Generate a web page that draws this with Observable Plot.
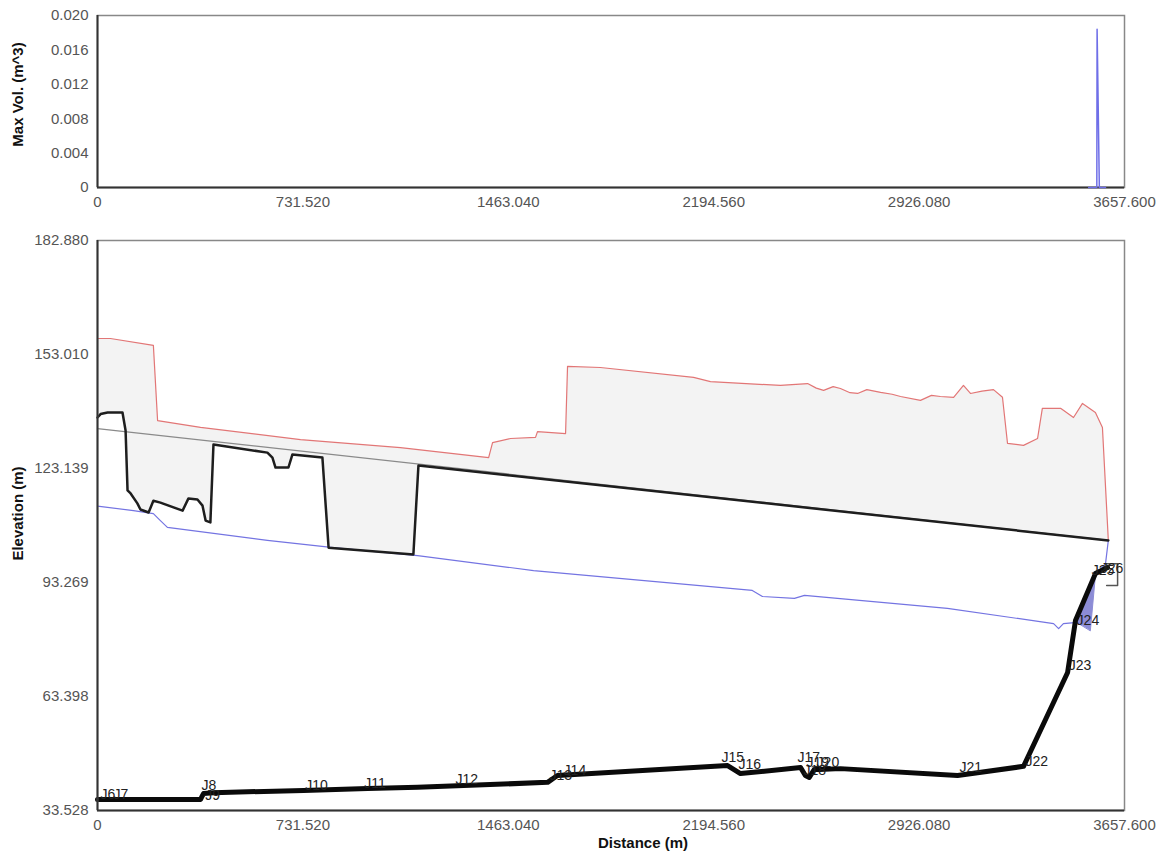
<!DOCTYPE html>
<html><head><meta charset="utf-8">
<script src="https://cdn.jsdelivr.net/npm/d3@7"></script>
<script src="https://cdn.jsdelivr.net/npm/@observablehq/plot@0.6"></script>
<style>
body{margin:0;background:#fff;}
#wrap{position:relative;width:1163px;height:856px;overflow:hidden;}
#top{position:absolute;left:0;top:0;}
#bottom{position:absolute;left:0;top:215px;}
</style></head><body><div id="wrap"><div id="top"></div><div id="bottom"></div></div>
<script>
// ---- tick values ----
const distTicks = [0, 731.52, 1463.04, 2194.56, 2926.08, 3657.6];
const volTicks = [0, 0.004, 0.008, 0.012, 0.016, 0.020];
const elevTicks = [33.528, 63.398, 93.269, 123.139, 153.010, 182.880];

// ---- top panel: max volume ----
const volDist = [3530, 3559, 3560, 3564, 3568, 3590];
const volValue = [0, 0, 0.0184, 0.0092, 0, 0];

// ---- lower panel: ground (red) ----
const groundDist = [0, 46, 199, 214, 367, 723, 1079, 1393, 1407, 1471, 1560, 1567, 1667, 1674, 1791, 2123, 2183, 2432, 2529, 2560, 2586, 2620, 2646, 2680, 2707, 2740, 2789, 2830, 2860, 2931, 2970, 3002, 3049, 3084, 3109, 3150, 3191, 3223, 3241, 3298, 3348, 3365, 3430, 3476, 3508, 3554, 3579, 3600];
const groundElev = [157.2, 157.2, 155.4, 135.7, 133.9, 130.7, 128.6, 126.0, 129.9, 131.0, 131.3, 132.8, 132.3, 149.9, 149.6, 147.0, 145.9, 144.9, 145.4, 144.2, 143.6, 144.6, 144.1, 143.0, 142.8, 143.8, 143.1, 142.6, 142.0, 141.0, 142.3, 142.0, 141.8, 144.9, 142.8, 143.4, 143.8, 141.8, 129.7, 129.2, 131.0, 138.9, 138.9, 136.5, 140.2, 137.8, 133.9, 104.3];

// ---- lower panel: invert (blue) ----
const invertDist = [0, 128, 199, 224, 249, 605, 840, 1140, 1553, 2332, 2368, 2482, 2518, 3027, 3405, 3423, 3440, 3490, 3554, 3590, 3600];
const invertElev = [113.3, 112.1, 111.3, 109.5, 107.7, 104.3, 102.4, 100.3, 96.4, 91.2, 89.6, 89.1, 89.9, 86.5, 82.5, 81.2, 82.5, 82.8, 95.1, 98.2, 104.3];

// ---- lower panel: black profile (upper) ----
const crownDist = [0, 11, 36, 89, 100, 107, 118, 142, 153, 182, 199, 224, 303, 324, 356, 374, 385, 402, 413, 605, 623, 634, 680, 694, 801, 823, 1125, 1143, 3600];
const crownElev = [136.5, 137.4, 137.8, 137.8, 133.1, 117.4, 116.6, 114.0, 112.4, 111.6, 114.7, 114.2, 112.1, 115.3, 115.0, 113.4, 109.5, 109.0, 129.4, 127.3, 126.0, 123.4, 123.4, 126.8, 126.0, 102.4, 100.6, 123.9, 104.3];

// ---- thin grey reference line ----
const refDist = [0, 3600];
const refElev = [133.6, 104.3];

// ---- lower thick profile ----
const profDist = [0, 367, 372, 378, 413, 734, 962, 1140, 1603, 1638, 2244, 2290, 2504, 2521, 2535, 2553, 2571, 2646, 3063, 3298, 3455, 3483, 3554, 3597];
const profElev = [36.4, 36.4, 37.2, 38.0, 38.2, 38.8, 39.3, 39.6, 40.9, 42.7, 45.3, 43.2, 44.8, 42.7, 42.2, 44.3, 44.3, 44.5, 42.7, 45.1, 69.7, 83.3, 95.6, 97.2];

// ---- small water polygon near J24 & storage box ----
const waterDist = [3490, 3554, 3536];
const waterElev = [82.8, 95.1, 80.7];
const boxDist = [3590, 3633, 3633, 3594];
const boxElev = [98.2, 98.2, 92.5, 92.5];

// ---- node labels ----
const nodeNames = ["J6","J7","J8","J9","J10","J11","J12","J13","J14","J15","J16","J17","J18","J19","J20","J21","J22","J23","J24","J25","J26"];
const nodeDist = [11, 57, 370, 384, 740, 950, 1275, 1610, 1660, 2222, 2283, 2493, 2514, 2525, 2561, 3070, 3305, 3459, 3487, 3541, 3573];
const nodeElev = [37.7, 37.7, 40.1, 37.5, 40.1, 40.6, 41.6, 42.7, 44.0, 47.4, 45.6, 47.4, 44.0, 46.1, 46.1, 44.8, 46.4, 71.5, 83.3, 96.4, 96.9];

const zip = (xs, ys) => xs.map((d, i) => ({d, e: ys[i]}));
const fmt = v => v === 0 ? "0" : v.toFixed(3);

const volData = volDist.map((d, i) => ({d, v: volValue[i]}));
const ground = zip(groundDist, groundElev);
const invert = zip(invertDist, invertElev);
const crown = zip(crownDist, crownElev);
const ref = zip(refDist, refElev);
const prof = zip(profDist, profElev);
const water = zip(waterDist, waterElev);
const box = zip(boxDist, boxElev);
const fillPoly = ground.concat(crown.slice().reverse());
const nodes = nodeNames.map((n, i) => ({n, d: nodeDist[i], e: nodeElev[i]}));

const style = {fontFamily: "'Liberation Sans', Arial, sans-serif", fontSize: "15px", color: "#555", background: "#fff", overflow: "visible"};

const topChart = Plot.plot({
  width: 1163, height: 215,
  marginLeft: 97, marginRight: 39, marginTop: 15, marginBottom: 28,
  style,
  x: {domain: [0, 3657.6], ticks: distTicks, tickFormat: fmt, tickSize: 0, tickPadding: 9, label: null},
  y: {domain: [0, 0.02], ticks: volTicks, tickFormat: fmt, tickSize: 0, tickPadding: 9, label: null},
  marks: [
    Plot.frame({stroke: "#888", strokeWidth: 1.5}),
    Plot.ruleX([distTicks[0]], {stroke: "#333", strokeWidth: 2}),
    Plot.ruleY([volTicks[0]], {stroke: "#333", strokeWidth: 2}),
    Plot.line(volData, {x: "d", y: "v", stroke: "#6f6fe8", strokeWidth: 1.5}),
    Plot.text(["Max Vol. (m^3)"], {frameAnchor: "left", textAnchor: "middle", lineAnchor: "middle", dx: -79, dy: -7, rotate: -90, fontWeight: "bold", fontSize: 15, fill: "#111"})
  ]
});
document.getElementById("top").appendChild(topChart);

const bottomChart = Plot.plot({
  width: 1163, height: 641,
  marginLeft: 97, marginRight: 39, marginTop: 25, marginBottom: 46,
  style,
  x: {domain: [0, 3657.6], ticks: distTicks, tickFormat: fmt, tickSize: 0, tickPadding: 9, label: null},
  y: {domain: [elevTicks[0], elevTicks[5]], ticks: elevTicks, tickFormat: fmt, tickSize: 0, tickPadding: 9, label: null},
  marks: [
    Plot.line(fillPoly, {x: "d", y: "e", fill: "#f3f3f3", stroke: "none", curve: "linear-closed"}),
    Plot.line(ref, {x: "d", y: "e", stroke: "#8a8a8a", strokeWidth: 1.2}),
    Plot.line(ground, {x: "d", y: "e", stroke: "#e27676", strokeWidth: 1.2}),
    Plot.line(invert, {x: "d", y: "e", stroke: "#7474e2", strokeWidth: 1.2}),
    Plot.line(water, {x: "d", y: "e", fill: "#8c8cd6", stroke: "#8c8cd6", strokeWidth: 1, curve: "linear-closed"}),
    Plot.line(crown, {x: "d", y: "e", stroke: "#1e1e1e", strokeWidth: 2.5, strokeLinejoin: "round"}),
    Plot.line(box, {x: "d", y: "e", stroke: "#555", strokeWidth: 1.5}),
    Plot.line(prof, {x: "d", y: "e", stroke: "#0a0a0a", strokeWidth: 5, strokeLinejoin: "round", strokeLinecap: "round"}),
    Plot.text(nodes, {x: "d", y: "e", text: "n", textAnchor: "start", fontSize: 14, fill: "#222"}),
    Plot.frame({stroke: "#888", strokeWidth: 1.5}),
    Plot.ruleX([distTicks[0]], {stroke: "#333", strokeWidth: 2}),
    Plot.ruleY([elevTicks[0]], {stroke: "#333", strokeWidth: 2}),
    Plot.text(["Elevation (m)"], {frameAnchor: "left", textAnchor: "middle", lineAnchor: "middle", dx: -79, dy: -12, rotate: -90, fontWeight: "bold", fontSize: 15, fill: "#111"}),
    Plot.text(["Distance (m)"], {frameAnchor: "bottom", textAnchor: "middle", lineAnchor: "middle", dx: 32, dy: 33, fontWeight: "bold", fontSize: 15, fill: "#111"})
  ]
});
document.getElementById("bottom").appendChild(bottomChart);
</script>
</body></html>
